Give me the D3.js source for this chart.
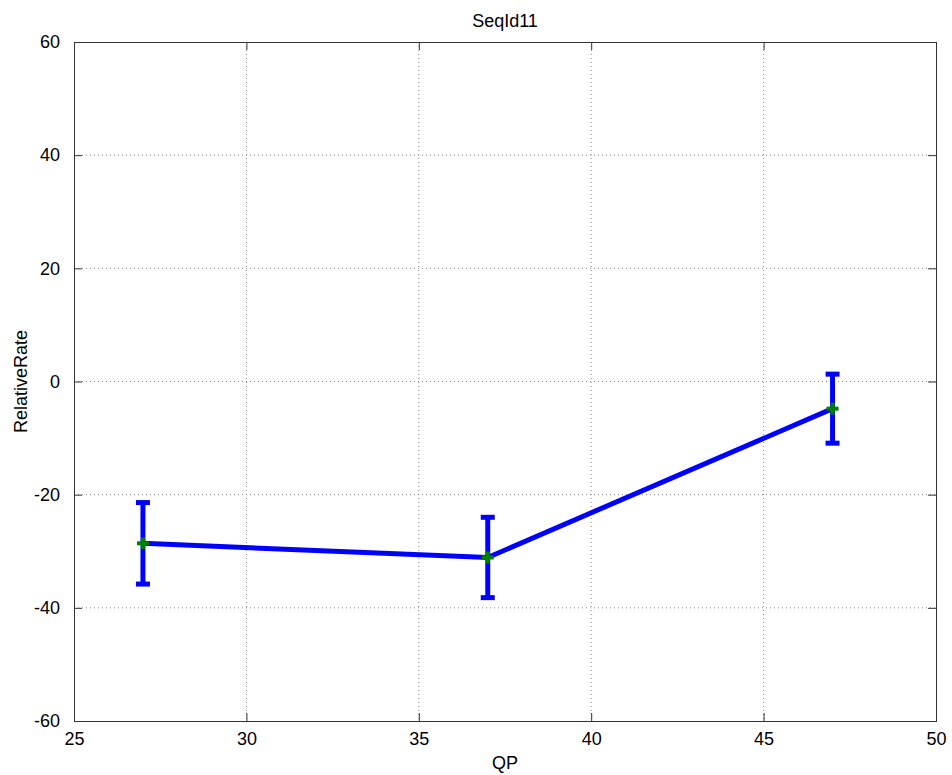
<!DOCTYPE html>
<html>
<head>
<meta charset="utf-8">
<script src="https://cdn.jsdelivr.net/npm/d3@7"></script>
<style>
  body { margin: 0; background: #fff; }
  text { font-family: "Liberation Sans", Arial, sans-serif; }
</style>
</head>
<body>
<div id="chart"></div>
<script>
// data
var qp = [27, 37, 47];
var rate = [-28.6, -31.1, -4.8];
var err = [7.2, 7.1, 6.1];
var xTicks = [25, 30, 35, 40, 45, 50];
var yTicks = [-60, -40, -20, 0, 20, 40, 60];

var width = 952, height = 775;
var margin = {left: 74, right: 16, top: 42, bottom: 54};
var w = width - margin.left - margin.right;
var h = height - margin.top - margin.bottom;

var svg = d3.select("#chart").append("svg")
    .attr("width", width)
    .attr("height", height);

var x = d3.scaleLinear().domain([25, 50]).range([0, w]);
var y = d3.scaleLinear().domain([-60, 60]).range([h, 0]);

var g = svg.append("g")
    .attr("transform", "translate(" + margin.left + "," + margin.top + ")");

// dotted grid
g.selectAll(".gx").data(xTicks.slice(1, -1)).enter().append("line")
    .attr("x1", function(d) { return x(d); })
    .attr("x2", function(d) { return x(d); })
    .attr("y1", 0).attr("y2", h)
    .attr("stroke", "#888").attr("stroke-width", 1)
    .attr("stroke-dasharray", "1,3");
g.selectAll(".gy").data(yTicks.slice(1, -1)).enter().append("line")
    .attr("y1", function(d) { return y(d); })
    .attr("y2", function(d) { return y(d); })
    .attr("x1", 0).attr("x2", w)
    .attr("stroke", "#888").attr("stroke-width", 1)
    .attr("stroke-dasharray", "1,3");

// axes, ticks pointing inward on all four sides (plain hyphen for negatives)
var tl = 8;
var fmt = function(d) { return String(d); };
g.append("g").attr("transform", "translate(0," + h + ")")
    .call(d3.axisBottom(x).tickValues(xTicks).tickSize(-tl).tickFormat(fmt).tickPadding(tl + 3));
g.append("g")
    .call(d3.axisTop(x).tickValues(xTicks).tickSize(-tl).tickFormat(""));
g.append("g")
    .call(d3.axisLeft(y).tickValues(yTicks).tickSize(-tl).tickFormat(fmt).tickPadding(tl + 6));
g.append("g").attr("transform", "translate(" + w + ",0)")
    .call(d3.axisRight(y).tickValues(yTicks).tickSize(-tl).tickFormat(""));

g.selectAll(".domain").attr("stroke", "#333");
g.selectAll(".tick line").attr("stroke", "#333");
g.selectAll(".tick text")
    .attr("font-size", 18)
    .attr("fill", "#000")
    .style("font-family", "'Liberation Sans', Arial, sans-serif");

var pts = qp.map(function(d, i) { return {x: d, y: rate[i], e: err[i]}; });

// error bars
var eb = g.selectAll(".eb").data(pts).enter().append("g").attr("stroke", "#0000ff").attr("stroke-width", 5);
eb.append("line")
    .attr("x1", function(d) { return x(d.x); })
    .attr("x2", function(d) { return x(d.x); })
    .attr("y1", function(d) { return y(d.y + d.e); })
    .attr("y2", function(d) { return y(d.y - d.e); });
eb.append("line")
    .attr("x1", function(d) { return x(d.x) - 7; })
    .attr("x2", function(d) { return x(d.x) + 7; })
    .attr("y1", function(d) { return y(d.y + d.e); })
    .attr("y2", function(d) { return y(d.y + d.e); });
eb.append("line")
    .attr("x1", function(d) { return x(d.x) - 7; })
    .attr("x2", function(d) { return x(d.x) + 7; })
    .attr("y1", function(d) { return y(d.y - d.e); })
    .attr("y2", function(d) { return y(d.y - d.e); });

// connecting line
g.append("path")
    .datum(pts)
    .attr("fill", "none")
    .attr("stroke", "#0000ff")
    .attr("stroke-width", 5)
    .attr("d", d3.line().x(function(d) { return x(d.x); }).y(function(d) { return y(d.y); }));

// green + markers
var mk = g.selectAll(".mk").data(pts).enter().append("g")
    .attr("transform", function(d) { return "translate(" + x(d.x) + "," + y(d.y) + ")"; })
    .attr("stroke", "#008000").attr("stroke-width", 4);
mk.append("line").attr("x1", -6).attr("x2", 6).attr("y1", 0).attr("y2", 0);
mk.append("line").attr("x1", 0).attr("x2", 0).attr("y1", -6).attr("y2", 6);

// labels
svg.append("text")
    .attr("x", margin.left + w / 2).attr("y", 27)
    .attr("text-anchor", "middle").attr("font-size", 18)
    .text("SeqId11");
svg.append("text")
    .attr("x", margin.left + w / 2).attr("y", 769)
    .attr("text-anchor", "middle").attr("font-size", 18)
    .text("QP");
svg.append("text")
    .attr("transform", "translate(27," + (margin.top + h / 2) + ") rotate(-90)")
    .attr("text-anchor", "middle").attr("font-size", 18)
    .text("RelativeRate");
</script>
</body>
</html>
